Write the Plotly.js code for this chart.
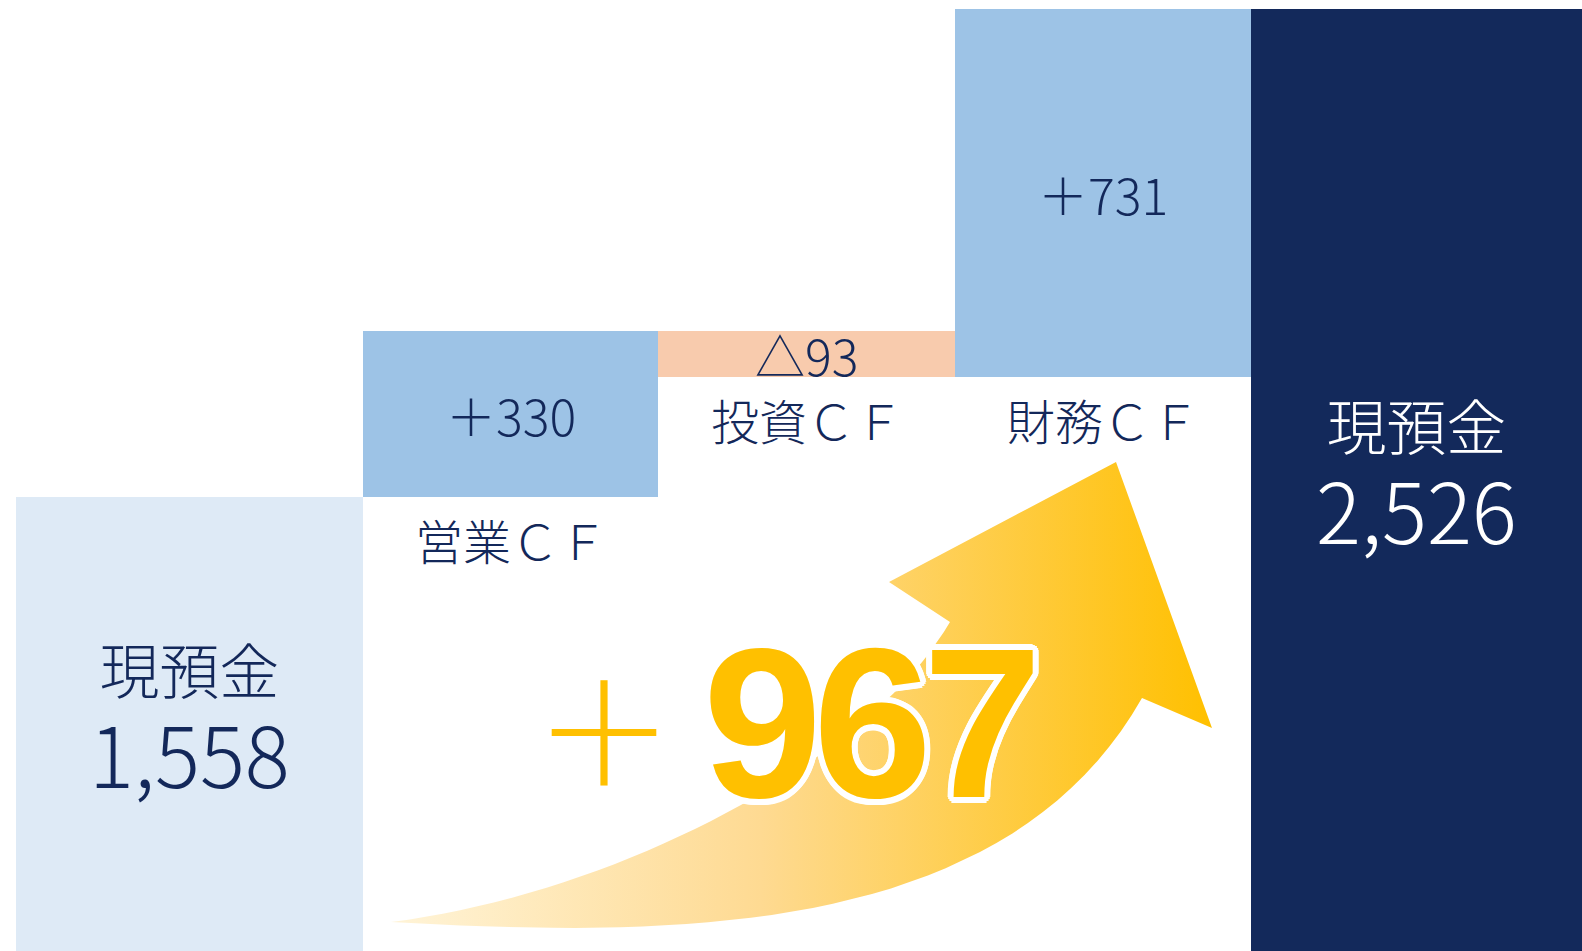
<!DOCTYPE html>
<html>
<head>
<meta charset="utf-8">
<script src="https://cdn.plot.ly/plotly-3.0.1.min.js"></script>
<style>html,body{margin:0;padding:0;background:#fff;}#chart{width:1582px;height:951px;}</style>
</head>
<body>
<div id="chart"></div>
<script>
// ---- data ----
const categories = ['現預金', '営業ＣＦ', '投資ＣＦ', '財務ＣＦ', '現預金'];
const startCash = 1558;
const flows = [330, -93, 731];
const endCash = 2526;
const valueLabels = ['1,558', '＋330', '△93', '＋731', '2,526'];
const totalChangeSign = '＋';
const totalChange = '967';

// ---- style ----
const leftPad = 16;
const barWidths = [347, 295, 297, 296, 331];
const barColors = ['#DEEAF6', '#9DC3E6', '#F8CBAD', '#9DC3E6', '#13295B'];
const navy = '#13285A';
const yMin = 657, yMax = 2544;
const JP = '"Noto Sans CJK JP", "Noto Sans", sans-serif';

// bar geometry from data
const centers = [];
let acc = leftPad;
barWidths.forEach(w => { centers.push(acc + w / 2); acc += w; });
const bases = [0], heights = [startCash];
let running = startCash;
flows.forEach(f => { bases.push(running); heights.push(f); running += f; });
bases.push(0); heights.push(endCash);

const bars = {
  type: 'bar', x: centers, y: heights, base: bases, width: barWidths,
  marker: {color: barColors, line: {width: 0}},
  hoverinfo: 'skip', xaxis: 'x', yaxis: 'y'
};

// decorative curved arrow (image-pixel frame), edges sampled from cubic Beziers
function bez(p0, p1, p2, p3, n) {
  const out = [];
  for (let i = 0; i <= n; i++) {
    const t = i / n, u = 1 - t;
    out.push([
      u*u*u*p0[0] + 3*u*u*t*p1[0] + 3*u*t*t*p2[0] + t*t*t*p3[0],
      u*u*u*p0[1] + 3*u*u*t*p1[1] + 3*u*t*t*p2[1] + t*t*t*p3[1]
    ]);
  }
  return out;
}
const lowerEdge = bez([391, 922], [700, 940], [1010, 930], [1142, 698], 40);
const head = [[1212, 728], [1116, 462], [889, 582], [950, 622]];
const upperEdge = bez([950, 622], [870, 760], [620, 893], [391, 922], 40).slice(1);
const arrowPts = lowerEdge.concat(head, upperEdge);
const arrow = {
  type: 'scatter', mode: 'lines',
  x: arrowPts.map(p => p[0]), y: arrowPts.map(p => p[1]), fill: 'toself',
  fillcolor: '#FED88A',
  fillgradient: {type: 'horizontal', colorscale: [[0, '#FFF4D8'], [0.45, '#FEDA92'], [1, '#FFC000']]},
  line: {width: 0, color: 'rgba(0,0,0,0)'}, hoverinfo: 'skip', xaxis: 'x2', yaxis: 'y2'
};

const ann = [];
// start / end totals: two-line label in one text
[0, 4].forEach(i => {
  const top = bases[i] + heights[i];
  const mid = (yMin + top) / 2;
  const col = i === 0 ? navy : '#FFFFFF';
  ann.push({x: centers[i], y: mid, showarrow: false, yshift: 6,
    text: '<span style="font-size:60px">' + categories[i] + '</span><br><span style="font-size:84px">' + valueLabels[i] + '</span>',
    font: {family: JP, size: 72, color: col, weight: 300}});
});
// flows
[1, 2, 3].forEach(i => {
  const lo = Math.min(bases[i], bases[i] + heights[i]);
  const hi = Math.max(bases[i], bases[i] + heights[i]);
  ann.push({x: centers[i], y: (lo + hi) / 2, text: valueLabels[i], showarrow: false,
    font: {family: JP, size: 50, color: navy, weight: 300}});
  ann.push({x: centers[i], y: lo, text: categories[i], showarrow: false, yshift: -42,
    font: {family: JP, size: 48, color: navy, weight: 300}});
});
// total change
const yellow = '#FFC000';
ann.push({xref: 'x2', yref: 'y2', x: 604, y: 724, text: totalChangeSign, showarrow: false,
  font: {family: JP, size: 142, color: yellow, weight: 300}});
const sh = [];
for (let a = 0; a < 16; a++) {
  const r = 6;
  sh.push((r * Math.cos(a * Math.PI / 8)).toFixed(1) + 'px ' + (r * Math.sin(a * Math.PI / 8)).toFixed(1) + 'px 0 #fff');
}
ann.push({xref: 'x2', yref: 'y2', x: 868, y: 722,
  text: '<span style="letter-spacing:-9px">' + totalChange + '</span>', showarrow: false,
  font: {family: '"Liberation Sans", Arial, sans-serif', size: 214, color: yellow, weight: 700, shadow: sh.join(', ')}});

const layout = {
  width: 1582, height: 951,
  margin: {l: 0, r: 0, t: 0, b: 0, pad: 0},
  paper_bgcolor: '#FFFFFF', plot_bgcolor: '#FFFFFF',
  showlegend: false, bargap: 0,
  xaxis: {range: [0, 1582], visible: false, fixedrange: true},
  yaxis: {range: [yMin, yMax], visible: false, fixedrange: true},
  xaxis2: {range: [0, 1582], visible: false, overlaying: 'x', fixedrange: true},
  yaxis2: {range: [951, 0], visible: false, overlaying: 'y', fixedrange: true},
  annotations: ann
};

Plotly.newPlot('chart', [bars, arrow], layout, {displayModeBar: false, staticPlot: true});
</script>
</body>
</html>
